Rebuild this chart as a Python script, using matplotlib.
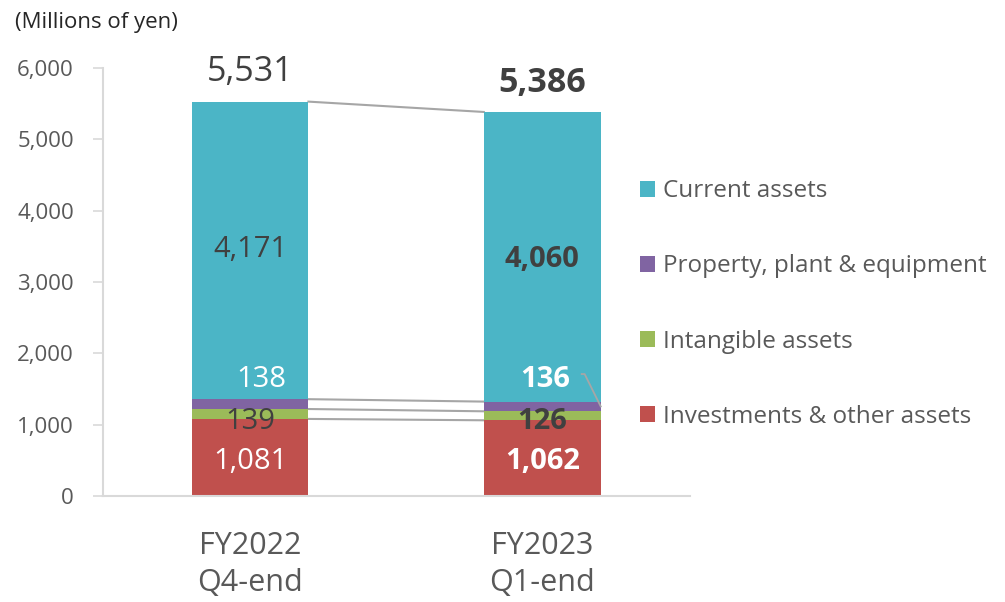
import numpy as np
import matplotlib.pyplot as plt

plt.rcParams['font.family'] = ['Open Sans', 'DejaVu Sans']

# ── Data ──────────────────────────────────────────────────────────────────────
periods = ["FY2022\nQ4-end", "FY2023\nQ1-end"]
series = ["Investments & other assets", "Intangible assets",
          "Property, plant & equipment", "Current assets"]
investments = [1081, 1062]
intangible = [139, 126]
ppe = [138, 136]
current = [4171, 4060]
totals = [5531, 5386]

COLORS = ["#C0504D", "#9BBB59", "#8064A2", "#4BB5C6"]
DARK = "#404040"
GRAY = "#595959"
LINE = "#A6A6A6"

# ── Figure ────────────────────────────────────────────────────────────────────
fig = plt.figure(figsize=(10.05, 6.02), dpi=100)
ax = fig.add_axes([0.1025, 0.176, 0.5845, 0.711])

x = np.arange(len(periods))
w = 0.40
values = [investments, intangible, ppe, current]
bottom = np.zeros(len(periods))
tops = []
handles = []
for vals, col, name in zip(values, COLORS, series):
    b = ax.bar(x, vals, w, bottom=bottom, color=col, label=name, zorder=2)
    handles.append(b)
    bottom = bottom + np.array(vals)
    tops.append(bottom.copy())

# connector lines between bars
for lvl in tops:
    ax.plot([x[0] + w / 2, x[1] - w / 2], [lvl[0], lvl[1]],
            color=LINE, lw=1.5, zorder=1)

# leader line for FY2023 PPE label
ppe_mid = investments[1] + intangible[1] + ppe[1] / 2
ax.plot([x[1] + 0.135, x[1] + 0.145, x[1] + w / 2], [1710, 1710, ppe_mid],
        color=LINE, lw=1.3, zorder=3, clip_on=False)

# ── Labels ────────────────────────────────────────────────────────────────────
for i, wt in zip(x, ["normal", "bold"]):
    ax.text(i, totals[i] + 410, f"{totals[i]:,}", ha="center", va="center",
            fontsize=24.5, color=DARK, fontweight=wt)
    ax.text(i, 3450 - 140 * i, f"{current[i]:,}", ha="center", va="center",
            fontsize=21, color=DARK, fontweight=wt)
    ax.text(i + 0.04 - 0.03 * i, 1640, f"{ppe[i]:,}", ha="center", va="center",
            fontsize=21, color="white", fontweight=wt, zorder=4)
    ax.text(i, 1050, f"{intangible[i]:,}", ha="center", va="center",
            fontsize=21, color=DARK, fontweight=wt, zorder=4)
    ax.text(i, 490, f"{investments[i]:,}", ha="center", va="center",
            fontsize=21, color="white", fontweight=wt, zorder=4)

# ── Axes styling ──────────────────────────────────────────────────────────────
ax.set_xlim(-0.503, 1.507)
ax.set_ylim(0, 6000)
ax.set_yticks(np.arange(0, 6001, 1000))
ax.set_yticklabels([f"{v:,}" for v in range(0, 6001, 1000)])
ax.set_xticks(x)
ax.set_xticklabels(periods, fontsize=22, color=GRAY, linespacing=1.3)
ax.tick_params(axis="y", labelsize=16, labelcolor=GRAY, color="#D9D9D9",
               length=7, width=1.2, pad=14)
ax.tick_params(axis="x", length=0, pad=25)
for s in ["top", "right"]:
    ax.spines[s].set_visible(False)
for s in ["left", "bottom"]:
    ax.spines[s].set_color("#D9D9D9")
    ax.spines[s].set_linewidth(1.5)

fig.text(0.015, 0.963, "(Millions of yen)", fontsize=16, color="#262626",
         ha="left", va="center")

leg = fig.legend(handles[::-1], series[::-1], loc="center left",
                 bbox_to_anchor=(0.615, 0.495), frameon=False, fontsize=17.5,
                 labelcolor=GRAY, handlelength=0.6, handleheight=0.6,
                 handletextpad=0.35, labelspacing=2.1)

fig.savefig("out.png", dpi=100, facecolor="white")
